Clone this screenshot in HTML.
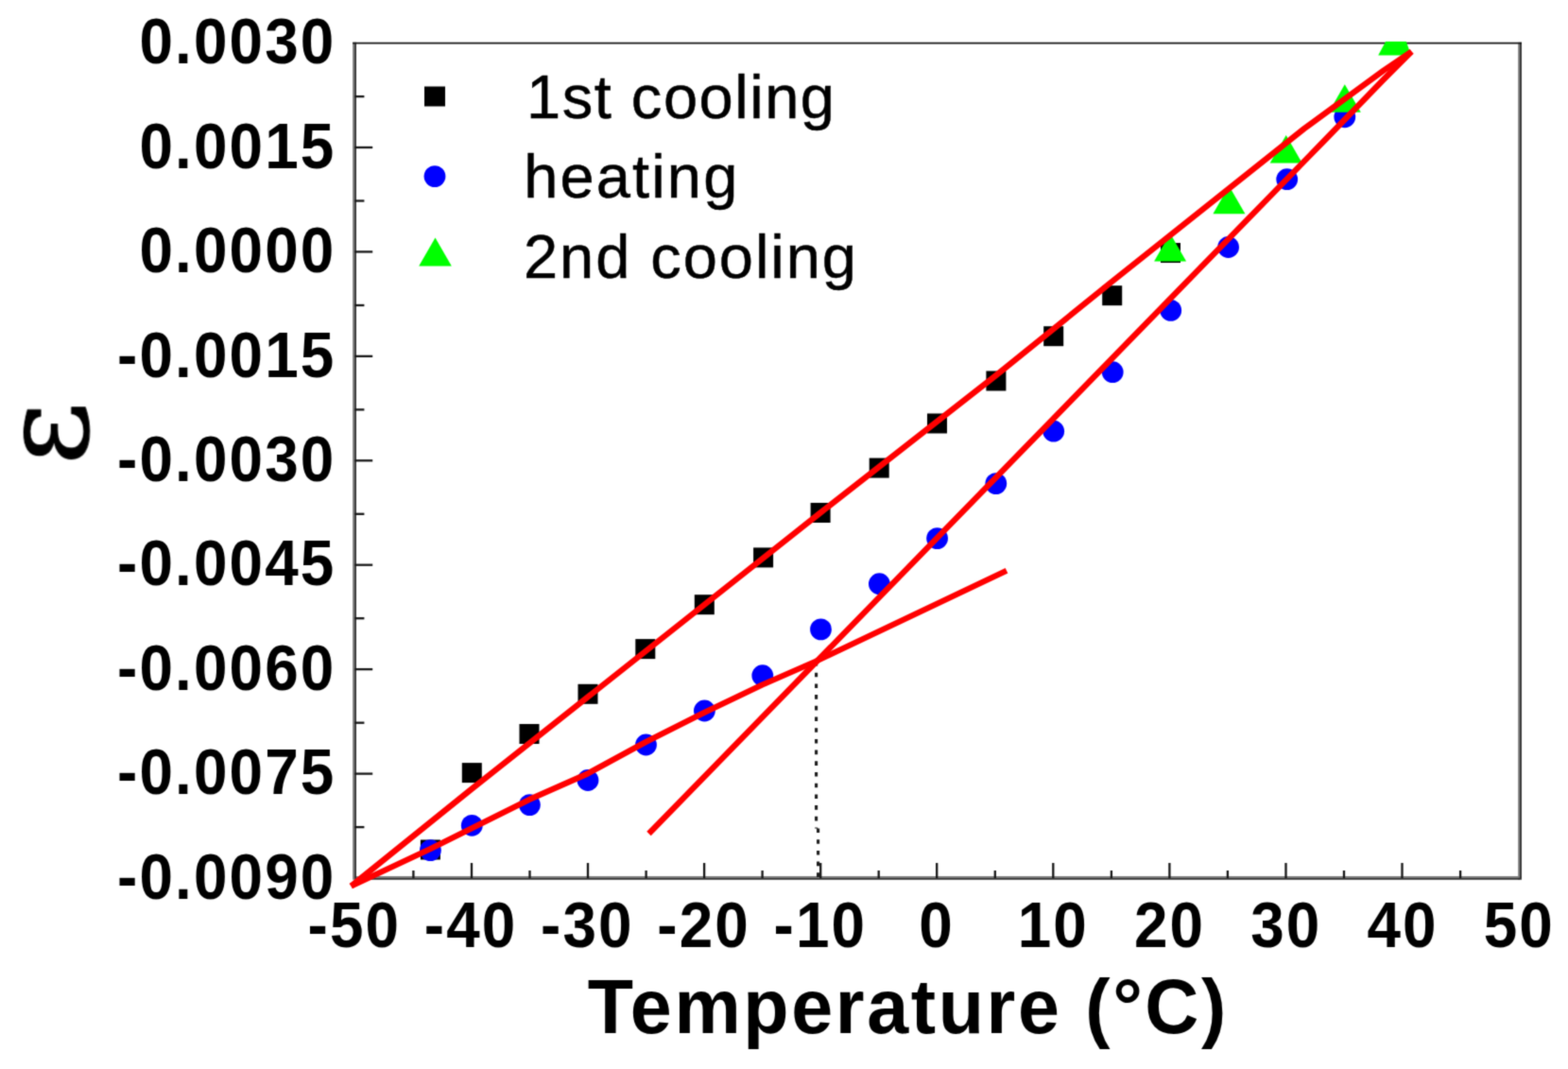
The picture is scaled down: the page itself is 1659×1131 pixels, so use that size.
<!DOCTYPE html>
<html lang="en"><head><meta charset="utf-8"><title>Strain vs Temperature</title>
<style>
html,body{margin:0;padding:0;background:#fff;}
body{width:1659px;height:1131px;overflow:hidden;}
svg{display:block;}
.tk{font-family:"Liberation Sans",Arial,sans-serif;font-weight:bold;font-size:67.5px;fill:#000;letter-spacing:2.3px;}
.lg{font-family:"Liberation Sans",Arial,sans-serif;font-weight:normal;font-size:65px;fill:#000;stroke:#000;stroke-width:0.5px;}
.tt{font-family:"Liberation Sans",Arial,sans-serif;font-weight:bold;font-size:79px;fill:#000;letter-spacing:2.65px;}
.ep{font-family:"DejaVu Serif","Liberation Serif",serif;font-weight:normal;font-size:100px;fill:#000;stroke:#000;stroke-width:0.8px;stroke-linejoin:round;}
</style></head><body>
<svg width="1659" height="1131" viewBox="0 0 1659 1131">
<defs><clipPath id="pc"><rect x="369.4" y="43.8" width="1244.4" height="897.2"/></clipPath>
<filter id="bl" filterUnits="userSpaceOnUse" x="0" y="0" width="1659" height="1131" color-interpolation-filters="sRGB"><feConvolveMatrix order="3" kernelMatrix="1 4 1 4 16 4 1 4 1" divisor="36" edgeMode="duplicate" preserveAlpha="false"/></filter></defs>
<rect width="1659" height="1131" fill="#fff"/>
<g filter="url(#bl)">
<g fill="none" stroke-width="1.9" stroke-linecap="square">
<path d="M374.1,45.6 V929.7 M1607.1,45.6 V929.7 M374.1,927.9 H1609" stroke="#7c7c7c"/>
<path d="M376.05,45.6 V929.7 H1609 V45.6" stroke="#333"/>
<path d="M374.1,45.6 H1609" stroke="#151515"/>
</g>
<g stroke="#161616" stroke-width="2.3" fill="none">
<line x1="375.4" y1="102.1" x2="385.4" y2="102.1"/>
<line x1="375.4" y1="156.0" x2="394.2" y2="156.0"/>
<line x1="375.4" y1="212.5" x2="385.4" y2="212.5"/>
<line x1="375.4" y1="266.4" x2="394.2" y2="266.4"/>
<line x1="375.4" y1="323.0" x2="385.4" y2="323.0"/>
<line x1="375.4" y1="376.9" x2="394.2" y2="376.9"/>
<line x1="375.4" y1="433.4" x2="385.4" y2="433.4"/>
<line x1="375.4" y1="487.3" x2="394.2" y2="487.3"/>
<line x1="375.4" y1="543.8" x2="385.4" y2="543.8"/>
<line x1="375.4" y1="597.7" x2="394.2" y2="597.7"/>
<line x1="375.4" y1="654.2" x2="385.4" y2="654.2"/>
<line x1="375.4" y1="708.1" x2="394.2" y2="708.1"/>
<line x1="375.4" y1="764.7" x2="385.4" y2="764.7"/>
<line x1="375.4" y1="818.6" x2="394.2" y2="818.6"/>
<line x1="375.4" y1="875.1" x2="385.4" y2="875.1"/>
<line x1="437.4" y1="929.0" x2="437.4" y2="921.0"/>
<line x1="499.0" y1="929.0" x2="499.0" y2="913.0"/>
<line x1="560.5" y1="929.0" x2="560.5" y2="921.0"/>
<line x1="622.0" y1="929.0" x2="622.0" y2="913.0"/>
<line x1="683.6" y1="929.0" x2="683.6" y2="921.0"/>
<line x1="745.1" y1="929.0" x2="745.1" y2="913.0"/>
<line x1="806.6" y1="929.0" x2="806.6" y2="921.0"/>
<line x1="868.2" y1="929.0" x2="868.2" y2="913.0"/>
<line x1="929.7" y1="929.0" x2="929.7" y2="921.0"/>
<line x1="991.2" y1="929.0" x2="991.2" y2="913.0"/>
<line x1="1052.8" y1="929.0" x2="1052.8" y2="921.0"/>
<line x1="1114.3" y1="929.0" x2="1114.3" y2="913.0"/>
<line x1="1175.9" y1="929.0" x2="1175.9" y2="921.0"/>
<line x1="1237.4" y1="929.0" x2="1237.4" y2="913.0"/>
<line x1="1298.9" y1="929.0" x2="1298.9" y2="921.0"/>
<line x1="1360.5" y1="929.0" x2="1360.5" y2="913.0"/>
<line x1="1422.0" y1="929.0" x2="1422.0" y2="921.0"/>
<line x1="1483.5" y1="929.0" x2="1483.5" y2="913.0"/>
<line x1="1545.1" y1="929.0" x2="1545.1" y2="921.0"/>
</g>
<text class="tk" id="yl0" transform="translate(355.5,67.3) scale(0.945,1.025)" text-anchor="end">0.0030</text>
<text class="tk" id="yl1" transform="translate(355.5,177.7) scale(0.945,1.025)" text-anchor="end">0.0015</text>
<text class="tk" id="yl2" transform="translate(355.5,288.1) scale(0.945,1.025)" text-anchor="end">0.0000</text>
<text class="tk" id="yl3" transform="translate(355.5,398.6) scale(0.945,1.025)" text-anchor="end">-0.0015</text>
<text class="tk" id="yl4" transform="translate(355.5,509.0) scale(0.945,1.025)" text-anchor="end">-0.0030</text>
<text class="tk" id="yl5" transform="translate(355.5,619.4) scale(0.945,1.025)" text-anchor="end">-0.0045</text>
<text class="tk" id="yl6" transform="translate(355.5,729.9) scale(0.945,1.025)" text-anchor="end">-0.0060</text>
<text class="tk" id="yl7" transform="translate(355.5,840.3) scale(0.945,1.025)" text-anchor="end">-0.0075</text>
<text class="tk" id="yl8" transform="translate(355.5,950.7) scale(0.945,1.025)" text-anchor="end">-0.0090</text>
<text class="tk" id="xl0" transform="translate(374.9,1002.3) scale(0.945,1.025)" text-anchor="middle">-50</text>
<text class="tk" id="xl1" transform="translate(498.1,1002.3) scale(0.945,1.025)" text-anchor="middle">-40</text>
<text class="tk" id="xl2" transform="translate(621.4,1002.3) scale(0.945,1.025)" text-anchor="middle">-30</text>
<text class="tk" id="xl3" transform="translate(744.6,1002.3) scale(0.945,1.025)" text-anchor="middle">-20</text>
<text class="tk" id="xl4" transform="translate(867.9,1002.3) scale(0.945,1.025)" text-anchor="middle">-10</text>
<text class="tk" id="xl5" transform="translate(991.1,1002.3) scale(0.945,1.025)" text-anchor="middle">0</text>
<text class="tk" id="xl6" transform="translate(1114.3,1002.3) scale(0.945,1.025)" text-anchor="middle">10</text>
<text class="tk" id="xl7" transform="translate(1237.6,1002.3) scale(0.945,1.025)" text-anchor="middle">20</text>
<text class="tk" id="xl8" transform="translate(1360.8,1002.3) scale(0.945,1.025)" text-anchor="middle">30</text>
<text class="tk" id="xl9" transform="translate(1484.1,1002.3) scale(0.945,1.025)" text-anchor="middle">40</text>
<text class="tk" id="xl10" transform="translate(1607.3,1002.3) scale(0.945,1.025)" text-anchor="middle">50</text>
<text class="tt" id="xt" transform="translate(960.9,1092.9) scale(1.0,1.03)" text-anchor="middle">Temperature (°C)</text>
<text class="ep" id="yt" transform="translate(92.3,492.0) rotate(-90) scale(1.295,1.28)">ε</text>
<rect x="449" y="91.5" width="22" height="21" fill="#000"/>
<circle cx="460" cy="186.6" r="11.4" fill="#0000ff"/>
<polygon points="460.5,251.5 477.8,281.5 443.2,281.5" fill="#00ff00"/>
<text class="lg" id="lg0" transform="translate(557.0,125.4) scale(1.0,1.0)" textLength="326.0" lengthAdjust="spacing">1st cooling</text>
<text class="lg" id="lg1" transform="translate(554.3,209.2) scale(1.0,1.0)" textLength="226.0" lengthAdjust="spacing">heating</text>
<text class="lg" id="lg2" transform="translate(554.0,294.2) scale(1.0,1.0)" textLength="352.0" lengthAdjust="spacing">2nd cooling</text>
<g clip-path="url(#pc)">
<g fill="#000">
<rect x="444.9" y="888.5" width="21" height="21"/>
<rect x="488.8" y="807.1" width="21" height="21"/>
<rect x="549.5" y="766.0" width="21" height="21"/>
<rect x="611.5" y="723.8" width="21" height="21"/>
<rect x="672.3" y="676.1" width="21" height="21"/>
<rect x="734.8" y="629.2" width="21" height="21"/>
<rect x="797.1" y="579.4" width="21" height="21"/>
<rect x="857.6" y="532.0" width="21" height="21"/>
<rect x="919.7" y="484.6" width="21" height="21"/>
<rect x="981.0" y="437.5" width="21" height="21"/>
<rect x="1043.4" y="392.5" width="21" height="21"/>
<rect x="1104.2" y="345.2" width="21" height="21"/>
<rect x="1166.2" y="302.2" width="21" height="21"/>
<rect x="1228.0" y="257.0" width="21" height="21"/>
</g>
<g fill="#0000ff">
<circle cx="455.4" cy="899.6" r="11.4"/>
<circle cx="499.3" cy="873.3" r="11.4"/>
<circle cx="560.4" cy="851.6" r="11.4"/>
<circle cx="622.0" cy="825.5" r="11.4"/>
<circle cx="683.5" cy="788.0" r="11.4"/>
<circle cx="745.4" cy="752.0" r="11.4"/>
<circle cx="806.8" cy="714.7" r="11.4"/>
<circle cx="868.5" cy="665.9" r="11.4"/>
<circle cx="930.4" cy="617.7" r="11.4"/>
<circle cx="991.6" cy="569.6" r="11.4"/>
<circle cx="1053.8" cy="511.6" r="11.4"/>
<circle cx="1114.7" cy="456.2" r="11.4"/>
<circle cx="1177.2" cy="393.7" r="11.4"/>
<circle cx="1238.7" cy="328.4" r="11.4"/>
<circle cx="1299.6" cy="261.5" r="11.4"/>
<circle cx="1361.7" cy="189.7" r="11.4"/>
<circle cx="1422.8" cy="123.8" r="11.4"/>
</g>
<g fill="#00ff00">
<polygon points="1458.2,58.5 1466.2,43.8 1487.8,43.8 1493,58.5"/>
<polygon points="1238.1,247.0 1255.1,276.5 1221.1,276.5"/>
<polygon points="1300.4,196.7 1317.4,226.2 1283.4,226.2"/>
<polygon points="1360.7,142.9 1377.7,172.4 1343.7,172.4"/>
<polygon points="1422.8,89.2 1439.8,118.7 1405.8,118.7"/>
</g>
</g>
<path d="M863.6,700 V876.5 M865.6,876.5 V929" fill="none" stroke="#1c1c1c" stroke-width="3.1" stroke-dasharray="4.6 7.1"/>
<g stroke="#ff0000" stroke-width="6.2" fill="none" stroke-linecap="butt" stroke-linejoin="round">
<polyline points="371.5,937.5 498.7,835 868,542.5 1054,397 1172.5,301.2 1380,136 1464,74.5 1493.5,54.5"/>
<polyline points="371.5,937.5 455,898.3 560,845.9 621.6,818.6 683.3,785 744.9,754 806.5,724.5 862.5,700 1065,603.8"/>
<polyline points="686.5,882 1400,150 1464,84 1493.5,54.5"/>
</g>
</g>
</svg>
</body></html>
